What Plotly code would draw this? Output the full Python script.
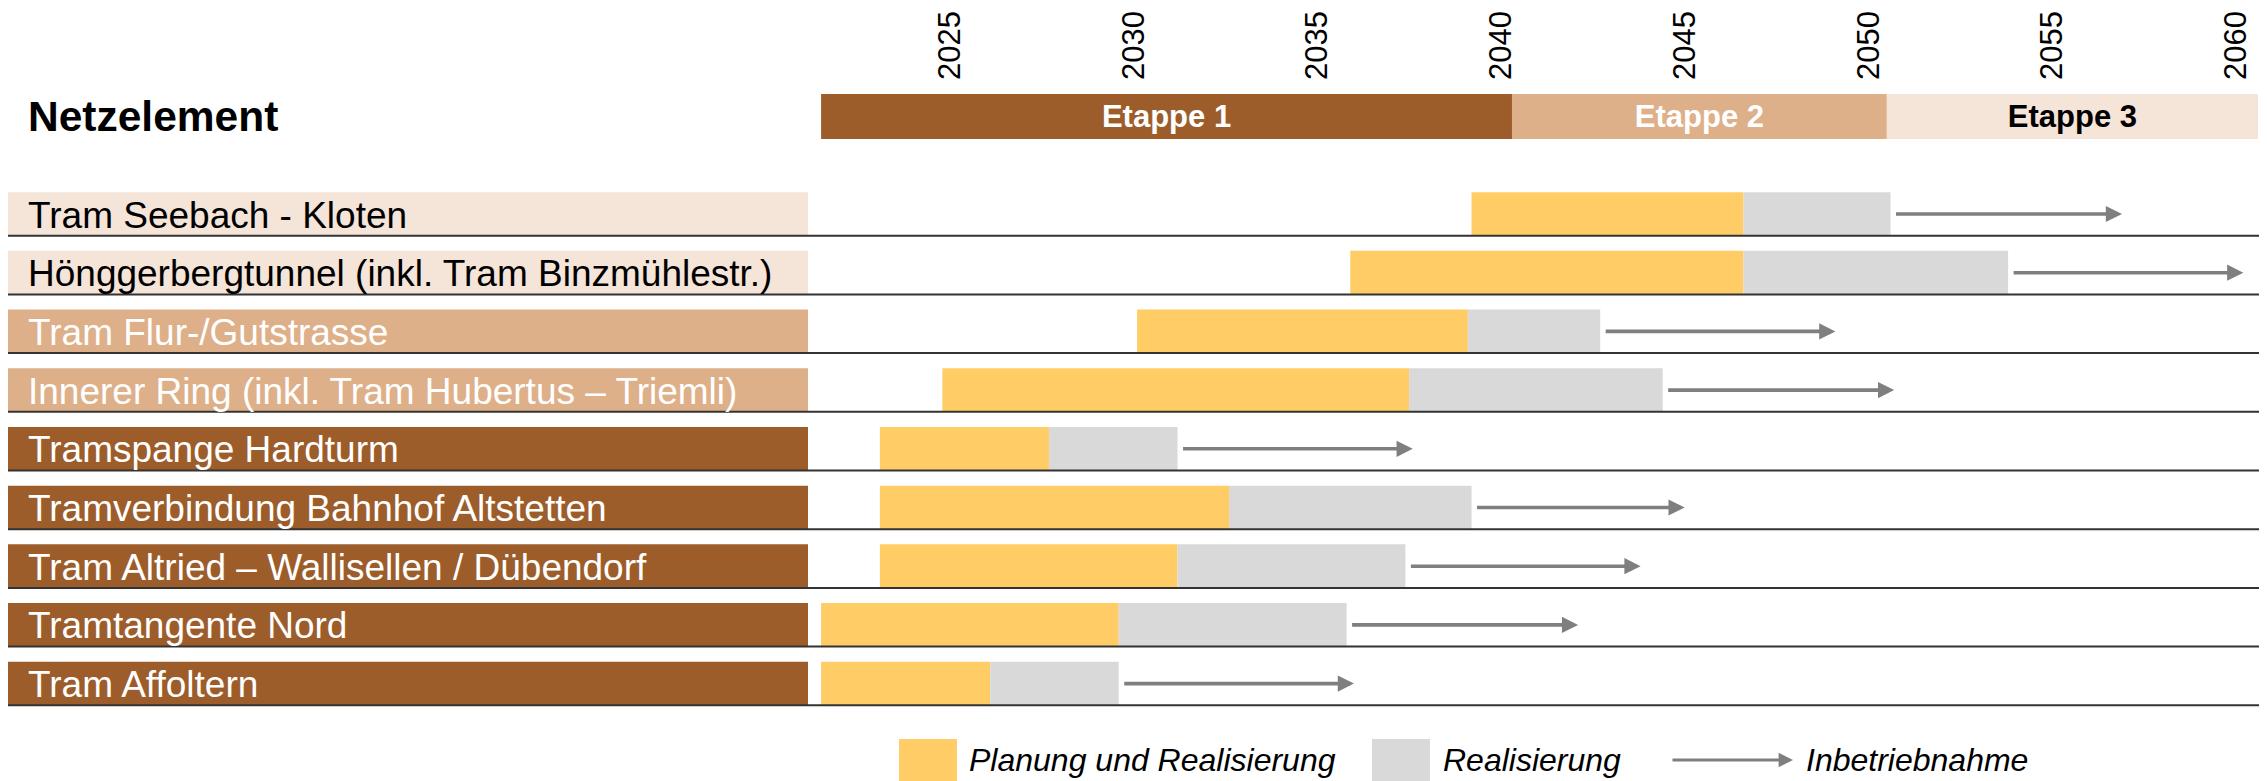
import plotly.graph_objects as go

# ---------------- data ----------------
projects = [
    "Tram Seebach - Kloten",
    "Hönggerbergtunnel (inkl. Tram Binzmühlestr.)",
    "Tram Flur-/Gutstrasse",
    "Innerer Ring (inkl. Tram Hubertus – Triemli)",
    "Tramspange Hardturm",
    "Tramverbindung Bahnhof Altstetten",
    "Tram Altried – Wallisellen / Dübendorf",
    "Tramtangente Nord",
    "Tram Affoltern",
]
project_etappe = [3, 3, 2, 2, 1, 1, 1, 1, 1]
plan_start = [2039.2, 2035.9, 2030.1, 2024.8, 2023.1, 2023.1, 2023.1, 2021.5, 2021.5]
real_start = [2046.6, 2046.6, 2039.1, 2037.5, 2027.7, 2032.6, 2031.2, 2029.6, 2026.1]
real_end = [2050.6, 2053.8, 2042.7, 2044.4, 2031.2, 2039.2, 2037.4, 2035.8, 2029.6]
inbetrieb = [2056.9, 2060.2, 2049.1, 2050.7, 2037.6, 2045.0, 2043.8, 2042.1, 2036.0]

etappen = ["Etappe 1", "Etappe 2", "Etappe 3"]
etappe_start = [2021.5, 2040.3, 2050.5]
etappe_end = [2040.3, 2050.5, 2060.6]

tick_years = [2025, 2030, 2035, 2040, 2045, 2050, 2055, 2060]

legend_labels = ["Planung und Realisierung", "Realisierung", "Inbetriebnahme"]
header_label = "Netzelement"

# ---------------- style / layout ----------------
OFF = 8                      # page body margin of the html page
W, H = 2267 - OFF, 781 - OFF
M_T, M_B = 80, 51
PLOT_BOTTOM = H - M_B
PLOT_H = H - M_T - M_B
FONT = "Liberation Sans, Arial, sans-serif"
ETAPPE_COLORS = ["#9C5D2B", "#DEB08A", "#F5E4D8"]
ETAPPE_TEXT = ["white", "white", "black"]
YELLOW = "#FFCC66"
GREY = "#D9D9D9"
ARROW = "#7F7F7F"
BAR_W = 0.745
ROW0 = 214 - OFF             # pixel centre of first row
PITCH = 58.7
YEAR_PX = 36.75
X2025 = 949.7 - OFF
HEADER_POS = -1.661


def px(p):
    return (p - OFF) / W


def py(p):
    return (PLOT_BOTTOM - (p - OFF)) / PLOT_H


rows = list(range(len(projects)))

fig = go.Figure()

# stage header bars
fig.add_trace(go.Bar(
    orientation="h",
    y=[HEADER_POS] * len(etappen),
    base=etappe_start,
    x=[e - s for s, e in zip(etappe_start, etappe_end)],
    width=0.767,
    marker=dict(color=ETAPPE_COLORS, line=dict(width=0)),
    text=etappen,
    textposition="inside",
    insidetextanchor="middle",
    textangle=0,
    constraintext="none",
    textfont=dict(family=FONT, size=31, color=ETAPPE_TEXT, weight="bold"),
    hoverinfo="skip",
))

# planning + realisation
fig.add_trace(go.Bar(
    orientation="h", y=rows, base=plan_start,
    x=[b - a for a, b in zip(plan_start, real_start)],
    width=BAR_W, marker=dict(color=YELLOW, line=dict(width=0)),
    name=legend_labels[0], hoverinfo="skip",
))
# realisation
fig.add_trace(go.Bar(
    orientation="h", y=rows, base=real_start,
    x=[b - a for a, b in zip(real_start, real_end)],
    width=BAR_W, marker=dict(color=GREY, line=dict(width=0)),
    name=legend_labels[1], hoverinfo="skip",
))

shapes = []
annotations = []

for i, name in enumerate(projects):
    e = project_etappe[i] - 1
    # label box
    shapes.append(dict(type="rect", xref="paper", yref="y",
                       x0=px(7), x1=px(808), y0=i - BAR_W / 2, y1=i + BAR_W / 2,
                       fillcolor=ETAPPE_COLORS[e], line=dict(width=0), layer="below"))
    # row rule
    shapes.append(dict(type="line", xref="paper", yref="y",
                       x0=px(7), x1=px(2259), y0=i + 0.37, y1=i + 0.37,
                       line=dict(color="#333333", width=2), layer="above"))
    annotations.append(dict(xref="paper", yref="y", x=px(26), y=i, yshift=-1,
                            text=name, showarrow=False, xanchor="left", yanchor="middle",
                            font=dict(family=FONT, size=37, color=ETAPPE_TEXT[e])))
    # commissioning arrow
    annotations.append(dict(xref="x", yref="y", x=inbetrieb[i], y=i,
                            axref="x", ayref="y", ax=real_end[i], ay=i,
                            text="", showarrow=True, arrowhead=2, arrowsize=0.9,
                            arrowwidth=3.6, arrowcolor=ARROW, startstandoff=4))

# header title
annotations.append(dict(xref="paper", yref="paper", x=px(26), y=py(117),
                        text="<b>" + header_label + "</b>", showarrow=False,
                        xanchor="left", yanchor="middle",
                        font=dict(family=FONT, size=42.5, color="black")))

# legend (custom)
LEG_Y = 760
shapes.append(dict(type="rect", xref="paper", yref="paper", x0=px(899), x1=px(957),
                   y0=py(739), y1=py(800), fillcolor=YELLOW, line=dict(width=0)))
shapes.append(dict(type="rect", xref="paper", yref="paper", x0=px(1372), x1=px(1430),
                   y0=py(739), y1=py(800), fillcolor=GREY, line=dict(width=0)))
for xpos, lab in zip([967, 1441, 1804], legend_labels):
    annotations.append(dict(xref="paper", yref="paper", x=px(xpos), y=py(LEG_Y),
                            text="<i>" + lab + "</i>", showarrow=False,
                            xanchor="left", yanchor="middle",
                            font=dict(family=FONT, size=32, color="black")))
annotations.append(dict(xref="paper", yref="paper", x=px(1793), y=py(LEG_Y),
                        ax=-122, ay=0, text="", showarrow=True, arrowhead=2,
                        arrowsize=0.9, arrowwidth=3.2, arrowcolor=ARROW))

x0 = 2025 - X2025 / YEAR_PX
x1 = x0 + W / YEAR_PX
y_top = (M_T - ROW0) / PITCH
y_bot = (PLOT_BOTTOM - ROW0) / PITCH

fig.update_layout(
    width=W, height=H,
    margin=dict(l=0, r=0, t=M_T, b=M_B),
    paper_bgcolor="white", plot_bgcolor="white",
    barmode="overlay", showlegend=False, hovermode=False,
    shapes=shapes, annotations=annotations,
    xaxis=dict(range=[x0, x1], side="top", tickvals=tick_years,
               ticktext=[str(t) for t in tick_years], tickangle=-90,
               tickfont=dict(family=FONT, size=31, color="black"),
               showgrid=False, zeroline=False, showline=False, ticks="",
               ticklabelstandoff=7),
    yaxis=dict(range=[y_bot, y_top], showticklabels=False, showgrid=False,
               zeroline=False, showline=False, ticks=""),
    font=dict(family=FONT),
)

fig.write_html("out.html")
